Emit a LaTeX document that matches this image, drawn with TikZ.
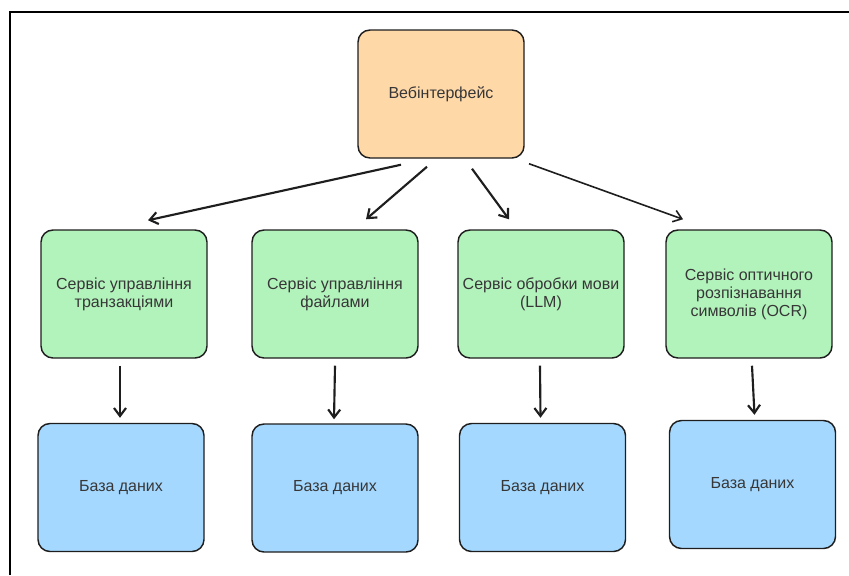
\documentclass[tikz,border=0pt]{standalone}
\usepackage{fontspec}
\setmainfont{Liberation Sans}
\usetikzlibrary{arrows.meta,calc}
\definecolor{cweb}{RGB}{255,216,168}
\definecolor{csrv}{RGB}{178,242,187}
\definecolor{cdb}{RGB}{165,216,255}
\definecolor{cline}{RGB}{30,30,30}
\definecolor{ctext}{RGB}{55,55,55}

\begin{document}
\begin{tikzpicture}[x=0.75pt,y=-0.75pt,>={Straight Barb[length=6pt,width=9pt]},
  font=\fontsize{12}{13.5}\selectfont,
  box/.style={draw=cline,line width=1.1pt,rounded corners=9pt,text=ctext,align=center,
    minimum width=124.5pt,minimum height=96pt,inner sep=0pt},
  arr/.style={->,cline,line width=1.6pt}]
  \useasboundingbox (0,0) rectangle (849,575);
  % frame (top and left only)
  \draw[line width=1.5pt] (9.5,575) -- (9.5,12) -- (849,12);
  % top
  \node[box,fill=cweb] (web) at (441,94) {Вебінтерфейс};
  % services
  \node[box,fill=csrv] (s1) at (124,294) {Сервіс управління\\транзакціями};
  \node[box,fill=csrv] (s2) at (335,294) {Сервіс управління\\файлами};
  \node[box,fill=csrv] (s3) at (541,294) {Сервіс обробки мови\\(LLM)};
  \node[box,fill=csrv] (s4) at (749,294) {Сервіс оптичного\\розпізнавання\\символів (OCR)};
  % databases
  \foreach \n/\x/\y in {1/121/487.5, 2/335/488, 3/542.5/487.5, 4/752.5/484.5}
    \node[box,fill=cdb] (d\n) at (\x,\y) {База даних};
  % web -> services
  \draw[arr] ($(web.south)+(-40,6)$) -- ($(s1.north)+(24,-9)$);
  \draw[arr] ($(web.south)+(-14,8)$) -- ($(s2.north)+(31,-10)$);
  \draw[arr] ($(web.south)+(31,10)$) -- ($(s3.north)+(-32,-10)$);
  \draw[arr,line width=1.2pt] ($(web.south)+(88,5)$) -- ($(s4.north)+(-66,-10)$);
  % services -> databases
  \draw[arr] ($(s1.south)+(-4,7)$) -- ($(d1.north)+(-1,-5)$);
  \draw[arr] ($(s2.south)+(0,7)$) -- ($(d2.north)+(-1,-4)$);
  \draw[arr] ($(s3.south)+(-1,7)$) -- ($(d3.north)+(-2,-5)$);
  \draw[arr] ($(s4.south)+(3,7)$) -- ($(d4.north)+(2,-5)$);
\end{tikzpicture}
\end{document}
